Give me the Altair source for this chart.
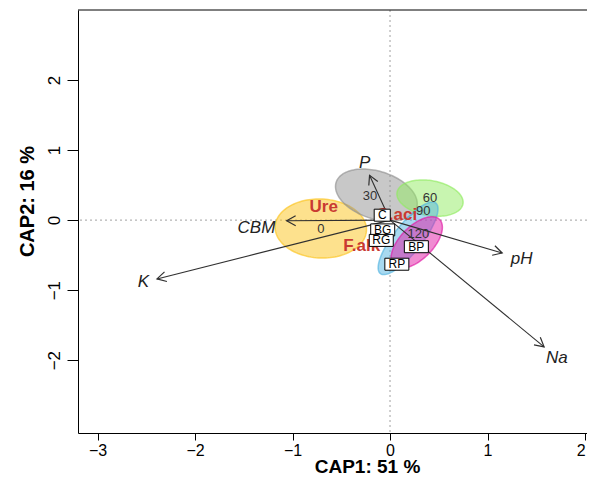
import math
import numpy as np
import pandas as pd
import altair as alt

FONT = "Liberation Sans"

# ---- axes ----
x_ticks = [-3, -2, -1, 0, 1, 2]
y_ticks = [-2, -1, 0, 1, 2]
x_domain = [-3.2, 2.02]
y_domain = [-3.04, 3.0]
x_title = "CAP1: 51 %"
y_title = "CAP2: 16 %"

# ---- environmental vectors (arrow tips and label positions) ----
vec_names = ["P", "CBM", "K", "pH", "Na"]
vec_x = [-0.21, -1.06, -2.39, 1.15, 1.58]
vec_y = [0.64, -0.01, -0.84, -0.47, -1.81]
vec_lab_x = [-0.26, -1.37, -2.53, 1.35, 1.71]
vec_lab_y = [0.81, -0.11, -0.89, -0.56, -1.97]

# ---- group ellipses ----
grp_names = ["0", "30", "60", "90", "120"]
grp_cx = [-0.71, -0.14, 0.41, 0.185, 0.274]
grp_cy = [-0.12, 0.357, 0.314, -0.26, -0.32]
grp_rx = [0.47, 0.46, 0.35, 0.58, 0.41]
grp_ry = [0.42, 0.32, 0.245, 0.16, 0.19]
grp_angle = [-10, -35, -20, 62, 60]
grp_colors = ["#FCC31C", "#919191", "#91EB61", "#51B4E1", "#E119A5"]
grp_lab_x = [-0.71, -0.205, 0.41, 0.34, 0.29]
grp_lab_y = [-0.13, 0.34, 0.32, 0.13, -0.20]

# ---- species labels ----
species = ["Ure", "C.aci", "F.alk"]
sp_x = [-0.68, 0.07, -0.29]
sp_y = [0.19, 0.07, -0.37]

# ---- site labels (boxed) ----
sites = ["C", "BG", "RG", "BP", "RP"]
site_x = [-0.08, -0.075, -0.09, 0.27, 0.07]
site_y = [0.07, -0.14, -0.29, -0.38, -0.63]

W, H = 509, 423
sx = W / (x_domain[1] - x_domain[0])
sy = H / (y_domain[1] - y_domain[0])

x_axis = alt.Axis(values=x_ticks, format="d", title=x_title, grid=False,
                  domain=True, domainColor="black", domainWidth=1,
                  tickSize=7, tickColor="black", tickWidth=1,
                  labelFontSize=16, labelFont=FONT, labelColor="black", labelPadding=2,
                  labelAlign=alt.ExprRef(expr="datum.value >= 2 ? 'right' : 'center'"),
                  titleFontSize=19, titleFont=FONT, titleFontWeight="bold", titleColor="black",
                  titleX=289, titleY=39, titleAlign="center", titleBaseline="alphabetic")
y_axis = alt.Axis(values=y_ticks, format="d", title=y_title, grid=False,
                  domain=True, domainColor="black", domainWidth=1,
                  tickSize=11, tickColor="black", tickWidth=1,
                  labelFontSize=17, labelFont=FONT, labelColor="black", labelPadding=4,
                  labelAngle=270, labelAlign="center", labelBaseline="bottom",
                  titleFontSize=20, titleFont=FONT, titleFontWeight="bold", titleColor="black",
                  titleAngle=270, titleX=-51, titleY=191, titleAlign="center", titleBaseline="middle")


def X(field):
    return alt.X(field, type="quantitative", scale=alt.Scale(domain=x_domain, nice=False, zero=False), axis=x_axis)


def Y(field):
    return alt.Y(field, type="quantitative", scale=alt.Scale(domain=y_domain, nice=False, zero=False), axis=y_axis)


layers = []

# dotted zero lines
zero_df = pd.DataFrame({"z": [0.0], "top": [y_domain[1]]})
layers.append(alt.Chart(zero_df).mark_rule(color="#A0A0A0", strokeDash=[2, 3], strokeWidth=1).encode(x=X("z")))
layers.append(alt.Chart(zero_df).mark_rule(color="#A0A0A0", strokeDash=[2, 3], strokeWidth=1).encode(y=Y("z")))
# top frame line
layers.append(alt.Chart(zero_df).mark_rule(color="black", strokeWidth=1).encode(y=Y("top")))

# ellipses
t = np.linspace(0, 2 * np.pi, 121)
for g, cx, cy, rx, ry, ang, col in zip(grp_names, grp_cx, grp_cy, grp_rx, grp_ry, grp_angle, grp_colors):
    th = math.radians(ang)
    ex = cx + rx * np.cos(t) * math.cos(th) - ry * np.sin(t) * math.sin(th)
    ey = cy + rx * np.cos(t) * math.sin(th) + ry * np.sin(t) * math.cos(th)
    edf = pd.DataFrame({"x": ex, "y": ey, "i": np.arange(len(t))})
    layers.append(
        alt.Chart(edf).mark_line(fill=col, fillOpacity=0.5, stroke=col, strokeOpacity=0.65, strokeWidth=1.5)
        .encode(x=X("x"), y=Y("y"), order=alt.Order("i:Q"))
    )

# arrows
vdf = pd.DataFrame({"name": vec_names, "x0": 0.0, "y0": 0.0, "x": vec_x, "y": vec_y,
                    "lx": vec_lab_x, "ly": vec_lab_y})
vdf["ang"] = [(math.degrees(math.atan2(-yy * sy, xx * sx)) + 360) % 360 for xx, yy in zip(vec_x, vec_y)]
layers.append(alt.Chart(vdf).mark_rule(color="#303030", strokeWidth=1.1).encode(
    x=X("x0"), y=Y("y0"), x2="x", y2="y"))
layers.append(alt.Chart(vdf).mark_point(shape="M -1 -0.55 L 0 0 L -1 0.55", size=324, filled=False,
                                        stroke="#303030", strokeWidth=1.2, opacity=1).encode(
    x=X("x"), y=Y("y"), angle=alt.Angle("ang:Q", scale=None)))
layers.append(alt.Chart(vdf).mark_text(font=FONT, fontSize=17, fontStyle="italic", color="#222222",
                                       align="center", baseline="middle").encode(
    x=X("lx"), y=Y("ly"), text="name:N"))

# group labels
gdf = pd.DataFrame({"name": grp_names, "x": grp_lab_x, "y": grp_lab_y})
layers.append(alt.Chart(gdf).mark_text(font=FONT, fontSize=13, color="#333333",
                                       align="center", baseline="middle").encode(
    x=X("x"), y=Y("y"), text="name:N"))

# species labels
sdf = pd.DataFrame({"name": species, "x": sp_x, "y": sp_y})
layers.append(alt.Chart(sdf).mark_text(font=FONT, fontSize=17, fontWeight="bold", color="#C93A32",
                                       align="center", baseline="middle").encode(
    x=X("x"), y=Y("y"), text="name:N"))

# site boxes
box2 = "M -1 -0.5 L 1 -0.5 L 1 0.5 L -1 0.5 Z"
box1 = "M -0.67 -0.5 L 0.67 -0.5 L 0.67 0.5 L -0.67 0.5 Z"
bdf = pd.DataFrame({"name": sites, "x": site_x, "y": site_y})
bdf["shape"] = [box1 if len(s) == 1 else box2 for s in sites]
layers.append(alt.Chart(bdf).mark_point(filled=True, fill="white", stroke="black", strokeWidth=1,
                                        size=576, opacity=1).encode(
    x=X("x"), y=Y("y"), shape=alt.Shape("shape:N", scale=None)))
layers.append(alt.Chart(bdf).mark_text(font=FONT, fontSize=12, color="black",
                                       align="center", baseline="middle").encode(
    x=X("x"), y=Y("y"), text="name:N"))

chart = alt.layer(*layers).properties(
    width=W, height=H,
    autosize=alt.AutoSizeParams(type="none"),
    padding={"left": 70, "top": 2, "right": 0, "bottom": 43},
    background="white",
).configure_view(stroke=None)

chart.save("out.html", embed_options={"renderer": "svg", "actions": False})
